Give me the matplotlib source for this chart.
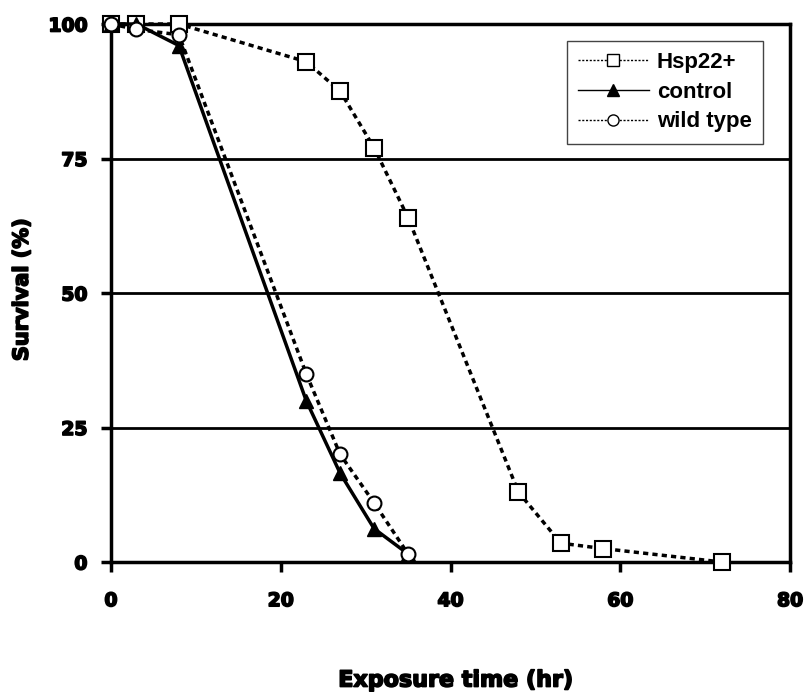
import matplotlib
matplotlib.use("Agg")
import matplotlib.pyplot as plt
import matplotlib.patheffects as pe

# exposure times (hr) and survival (%)
hsp22_time = [0, 3, 8, 23, 27, 31, 35, 48, 53, 58, 72]
hsp22_surv = [100, 100, 100, 93, 87.5, 77, 64, 13, 3.5, 2.5, 0]

control_time = [0, 3, 8, 23, 27, 31, 35]
control_surv = [100, 100, 96, 30, 16.5, 6.2, 1.5]

wild_time = [0, 3, 8, 23, 27, 31, 35]
wild_surv = [100, 99, 98, 35, 20, 11, 1.5]

x_ticks = [0, 20, 40, 60, 80]
y_ticks = [0, 25, 50, 75, 100]

heavy = [pe.withStroke(linewidth=1.2, foreground="black")]

fig = plt.figure(figsize=(8.07, 6.98), dpi=100)
ax = fig.add_axes([0.1375, 0.1948, 0.8415, 0.7708])

for y in y_ticks[1:-1]:
    ax.axhline(y, color="black", lw=2, zorder=1)

ax.plot(hsp22_time, hsp22_surv, ls=(0, (1.5, 1.2)), lw=2.5, color="black",
        marker="s", ms=11, mfc="white", mec="black", mew=1.5, label="Hsp22+",
        zorder=3, clip_on=False)
ax.plot(control_time, control_surv, ls="-", lw=2.5, color="black",
        marker="^", ms=10, mfc="black", mec="black", label="control",
        zorder=4, clip_on=False)
ax.plot(wild_time, wild_surv, ls=(0, (1.5, 1.2)), lw=2.5, color="black",
        marker="o", ms=10, mfc="white", mec="black", mew=1.5, label="wild type",
        zorder=5, clip_on=False)

ax.set_xlim(0, 80)
ax.set_ylim(0, 100)
ax.set_xticks(x_ticks)
ax.set_yticks(y_ticks)
for s in ax.spines.values():
    s.set_linewidth(2.5)
ax.tick_params(direction="out", length=7, width=2.5, labelsize=13.5)
ax.tick_params(axis="x", pad=14)
ax.tick_params(axis="y", pad=10)
for lab in ax.get_xticklabels() + ax.get_yticklabels():
    lab.set_fontweight("bold")
    lab.set_path_effects(heavy)

fig.text(0.565, 0.025, "Exposure time (hr)", fontsize=16, fontweight="bold",
         ha="center", va="center", path_effects=heavy)
fig.text(0.027, 0.585, "Survival (%)", fontsize=15, fontweight="bold",
         ha="center", va="center", rotation=90, path_effects=heavy)

leg = ax.legend(loc="upper right", bbox_to_anchor=(0.976, 0.99), fancybox=False,
                framealpha=1, edgecolor="#444444", handlelength=3.2,
                prop={"family": "Liberation Sans", "weight": "bold", "size": 16},
                borderpad=0.5, labelspacing=0.4, handletextpad=0.35)
leg.get_frame().set_linewidth(1)
for h in leg.legend_handles:
    h.set_linewidth(1)
    h.set_markersize(8)
    h.set_markeredgewidth(1)

fig.savefig("out.png", dpi=100)
